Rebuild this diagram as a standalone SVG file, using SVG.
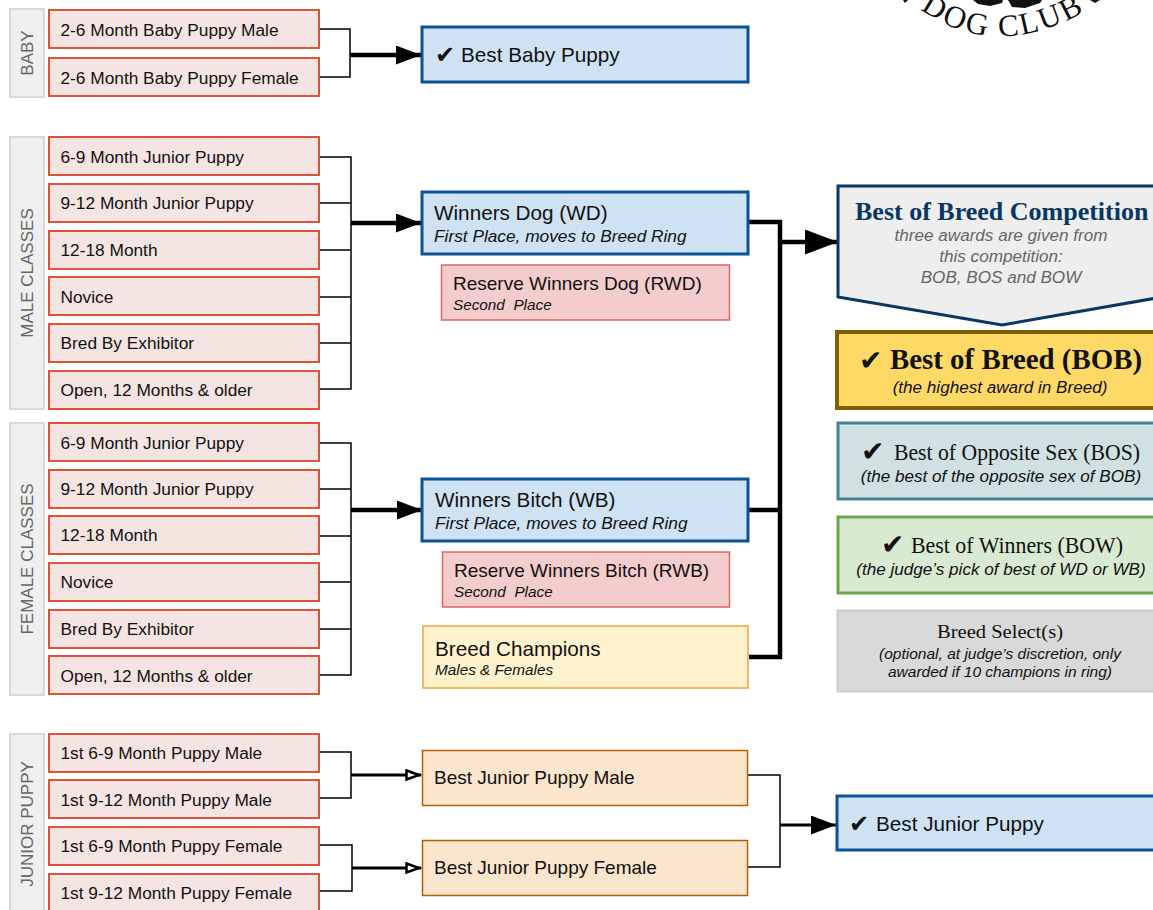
<svg xmlns="http://www.w3.org/2000/svg" width="1153" height="910" viewBox="0 0 1153 910">
<style>
text{font-family:"Liberation Sans",Arial,sans-serif;fill:#111}
.g{fill:#efefef;stroke:#d9d9d9;stroke-width:2}
.gt{font-size:17px;fill:#666;text-anchor:middle}
.c rect{fill:#f4e5e2;stroke:#d9543a;stroke-width:2}
.c text{font-size:17.300px}
.blue rect{fill:#cfe2f3;stroke:#0b5394;stroke-width:3}
.big{font-size:20.700px}
.sub{font-size:17.300px;font-style:italic}
.small{font-size:15.300px;font-style:italic;white-space:pre}
.note{font-size:17.100px;font-style:italic;text-anchor:middle}
.note2{font-size:15.500px;font-style:italic;text-anchor:middle}
.ser{font-family:"Liberation Serif",serif}
.mid{text-anchor:middle}
.thin{fill:none;stroke:#000;stroke-width:1.500}
.thick{fill:none;stroke:#000;stroke-width:4.500}
.med{fill:none;stroke:#000;stroke-width:3}
</style>
<defs>
<marker id="ah" markerUnits="userSpaceOnUse" markerWidth="26" markerHeight="20" refX="25" refY="9.500" orient="auto"><path d="M0 0L25 9.500L0 19Z" fill="#000"/></marker>
<marker id="ahb" markerUnits="userSpaceOnUse" markerWidth="34" markerHeight="26" refX="33" refY="12.500" orient="auto"><path d="M0 0L33 12.500L0 25Z" fill="#000"/></marker>
<marker id="oh" markerUnits="userSpaceOnUse" markerWidth="18" markerHeight="14" refX="16" refY="6" orient="auto"><path d="M1.500 1.500L14 6L1.500 10.500Z" fill="#fff" stroke="#000" stroke-width="2.500"/></marker>
<path id="logoarc" d="M920 9Q1000 66 1097 4"/>
</defs>

<g id="connectors">
<path class="thin" d="M319 29H350V77H319"/>
<path class="thick" d="M350 55H421" marker-end="url(#ah)"/>
<path class="thin" d="M319 157H351V389H319M319 203H351M319 250H351M319 297H351M319 343H351"/>
<path class="thick" d="M351 223H421" marker-end="url(#ah)"/>
<path class="thin" d="M319 443H351V675H319M319 489H351M319 536H351M319 582H351M319 629H351"/>
<path class="thick" d="M351 510H422" marker-end="url(#ah)"/>
<path class="thick" d="M749 222H780V657H749M749 510H780"/>
<path class="thick" d="M780 242H838" marker-end="url(#ahb)"/>
<path class="thin" d="M319 752H351V798H319"/>
<path class="med" d="M351 775H421" marker-end="url(#oh)"/>
<path class="thin" d="M319 845H352V891H319"/>
<path class="med" d="M352 868H421" marker-end="url(#oh)"/>
<path class="thin" d="M748 775H780V867H748"/>
<path class="med" d="M780 825H836" marker-end="url(#ah)"/>
</g>

<g id="logo">
<path d="M903 0L905 3L908 0ZM973 0L978 4L990 6L1002 3L1003 0ZM1008 0L1012 7L1025 8L1040 3L1042 0ZM1090 0L1095 3L1100 0Z" fill="#111"/>
<text font-size="31" style="font-family:'Liberation Serif',serif" letter-spacing="2.400"><textPath href="#logoarc">DOG CLUB</textPath></text>
</g>

<g id="lane-baby"><rect class="g" x="10" y="9" width="34" height="88"/><text class="gt" transform="translate(33 53) rotate(-90)">BABY</text></g>
<g id="lane-male"><rect class="g" x="10" y="137" width="34" height="272"/><text class="gt" transform="translate(33 273) rotate(-90)">MALE CLASSES</text></g>
<g id="lane-female"><rect class="g" x="10" y="423" width="34" height="272"/><text class="gt" transform="translate(33 559) rotate(-90)">FEMALE CLASSES</text></g>
<g id="lane-junior"><rect class="g" x="10" y="734" width="34" height="190"/><text class="gt" transform="translate(33 824) rotate(-90)">JUNIOR PUPPY</text></g>

<g class="c">
<g id="c1"><rect x="49" y="10" width="270" height="38"/><text x="60.500" y="35.500">2-6 Month Baby Puppy Male</text></g>
<g id="c2"><rect x="49" y="58" width="270" height="38"/><text x="60.500" y="83.500">2-6 Month Baby Puppy Female</text></g>
<g id="m1"><rect x="49" y="137" width="270" height="38"/><text x="60.500" y="163">6-9 Month Junior Puppy</text></g>
<g id="m2"><rect x="49" y="184" width="270" height="38"/><text x="60.500" y="209">9-12 Month Junior Puppy</text></g>
<g id="m3"><rect x="49" y="231" width="270" height="38"/><text x="60.500" y="256">12-18 Month</text></g>
<g id="m4"><rect x="49" y="277" width="270" height="38"/><text x="60.500" y="302.500">Novice</text></g>
<g id="m5"><rect x="49" y="324" width="270" height="38"/><text x="60.500" y="349">Bred By Exhibitor</text></g>
<g id="m6"><rect x="49" y="371" width="270" height="38"/><text x="60.500" y="396">Open, 12 Months &amp; older</text></g>
<g id="f1"><rect x="49" y="423" width="270" height="38"/><text x="60.500" y="449">6-9 Month Junior Puppy</text></g>
<g id="f2"><rect x="49" y="470" width="270" height="38"/><text x="60.500" y="495">9-12 Month Junior Puppy</text></g>
<g id="f3"><rect x="49" y="516" width="270" height="38"/><text x="60.500" y="541">12-18 Month</text></g>
<g id="f4"><rect x="49" y="563" width="270" height="38"/><text x="60.500" y="588">Novice</text></g>
<g id="f5"><rect x="49" y="610" width="270" height="38"/><text x="60.500" y="635">Bred By Exhibitor</text></g>
<g id="f6"><rect x="49" y="656" width="270" height="38"/><text x="60.500" y="682">Open, 12 Months &amp; older</text></g>
<g id="j1"><rect x="49" y="734" width="270" height="38"/><text x="60.500" y="759">1st 6-9 Month Puppy Male</text></g>
<g id="j2"><rect x="49" y="780" width="270" height="38"/><text x="60.500" y="806">1st 9-12 Month Puppy Male</text></g>
<g id="j3"><rect x="49" y="827" width="270" height="38"/><text x="60.500" y="852">1st 6-9 Month Puppy Female</text></g>
<g id="j4"><rect x="49" y="874" width="270" height="38"/><text x="60.500" y="899">1st 9-12 Month Puppy Female</text></g>
</g>

<g id="best-baby" class="blue"><rect x="422" y="27" width="326" height="55"/><text x="435" y="63" font-size="24">✔</text><text class="big" x="461" y="62">Best Baby Puppy</text></g>
<g id="wd" class="blue"><rect x="422" y="192" width="326" height="62"/><text class="big" x="434" y="220">Winners Dog (WD)</text><text class="sub" x="434" y="241.500">First Place, moves to Breed Ring</text></g>
<g id="rwd"><rect x="441.500" y="265" width="288" height="55" fill="#f4cccc" stroke="#e06666" stroke-width="1.500"/><text x="453" y="290" font-size="19">Reserve Winners Dog (RWD)</text><text class="small" x="453" y="310">Second  Place</text></g>
<g id="wb" class="blue"><rect x="422" y="479" width="326" height="62"/><text class="big" x="435" y="507">Winners Bitch (WB)</text><text class="sub" x="435" y="528.500">First Place, moves to Breed Ring</text></g>
<g id="rwb"><rect x="442.500" y="552" width="287" height="55" fill="#f4cccc" stroke="#e06666" stroke-width="1.500"/><text x="454" y="577" font-size="19">Reserve Winners Bitch (RWB)</text><text class="small" x="454" y="597">Second  Place</text></g>
<g id="champs"><rect x="423" y="626" width="325" height="62" fill="#fff2cc" stroke="#f1a33c" stroke-width="1.500"/><text class="big" x="435" y="656">Breed Champions</text><text class="small" x="435" y="675">Males &amp; Females</text></g>
<g id="jm"><rect x="422.500" y="750.500" width="325" height="55" fill="#fce5cd" stroke="#b45f06" stroke-width="1.500"/><text x="434" y="784" font-size="19">Best Junior Puppy Male</text></g>
<g id="jf"><rect x="422.500" y="840.500" width="325" height="55" fill="#fce5cd" stroke="#b45f06" stroke-width="1.500"/><text x="434" y="874" font-size="19">Best Junior Puppy Female</text></g>

<g id="bob-comp"><path d="M838 186H1168V296L1002 325L838 297Z" fill="#eeeeee" stroke="#073763" stroke-width="3"/>
<text class="ser" x="855" y="220" font-size="26" font-weight="700" style="fill:#073763">Best of Breed Competition</text>
<text class="note" x="1001" y="241" style="fill:#666">three awards are given from</text><text class="note" x="1001" y="262" style="fill:#666">this competition:</text><text class="note" x="1001" y="283" style="fill:#666">BOB, BOS and BOW</text></g>
<g id="bob"><rect x="837" y="332" width="330" height="76" fill="#ffd966" stroke="#7f6000" stroke-width="4"/>
<text x="859" y="370" font-size="28">✔</text><text class="ser" x="890" y="369" font-size="29" font-weight="700" textLength="252" lengthAdjust="spacingAndGlyphs">Best of Breed (BOB)</text><text class="note" x="1000" y="393">(the highest award in Breed)</text></g>
<g id="bos"><rect x="838" y="423" width="330" height="76" fill="#d0e0e3" stroke="#45818e" stroke-width="3"/>
<text x="861" y="461" font-size="28">✔</text><text class="ser" x="894" y="460" font-size="23" textLength="246" lengthAdjust="spacingAndGlyphs">Best of Opposite Sex (BOS)</text><text class="note" x="1001" y="482">(the best of the opposite sex of BOB)</text></g>
<g id="bow"><rect x="838" y="517" width="330" height="76" fill="#d9ead3" stroke="#6aa84f" stroke-width="3"/>
<text x="881" y="554" font-size="28">✔</text><text class="ser" x="911" y="553" font-size="23" textLength="212" lengthAdjust="spacingAndGlyphs">Best of Winners (BOW)</text><text class="note" x="1001" y="575">(the judge’s pick of best of WD or WB)</text></g>
<g id="select"><rect x="837.500" y="610.500" width="330" height="81" fill="#d9d9d9" stroke="#cccccc" stroke-width="2"/>
<text class="ser mid" x="1000" y="638" font-size="19" textLength="126" lengthAdjust="spacingAndGlyphs">Breed Select(s)</text><text class="note2" x="1000" y="659">(optional, at judge’s discretion, only</text><text class="note2" x="1000" y="677">awarded if 10 champions in ring)</text></g>
<g id="best-junior" class="blue"><rect x="837" y="796" width="330" height="54"/><text x="849" y="832" font-size="24">✔</text><text class="big" x="876" y="831">Best Junior Puppy</text></g>
</svg>
